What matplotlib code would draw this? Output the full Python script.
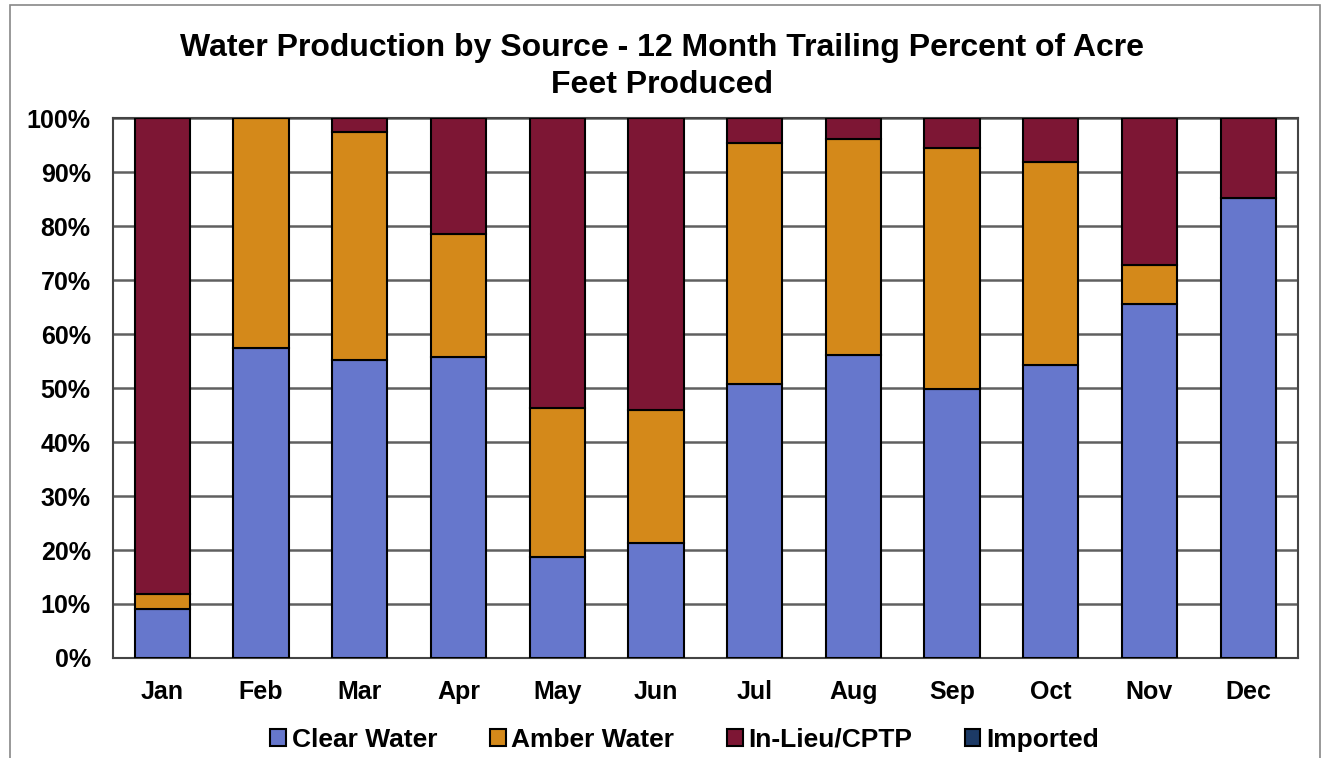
import numpy as np
import matplotlib.pyplot as plt
from matplotlib.patches import Rectangle

months = ["Jan", "Feb", "Mar", "Apr", "May", "Jun",
          "Jul", "Aug", "Sep", "Oct", "Nov", "Dec"]

# percent of acre feet
clear_water = [9.1, 57.4, 55.2, 55.7, 18.7, 21.3, 50.7, 56.1, 49.8, 54.3, 65.6, 85.2]
amber_water = [2.8, 42.6, 42.2, 22.8, 27.6, 24.6, 44.7, 40.0, 44.6, 37.6, 7.2, 0.0]
in_lieu     = [88.1, 0.0, 2.6, 21.5, 53.7, 54.1, 4.6, 3.9, 5.6, 8.1, 27.2, 14.8]
imported    = [0.0] * 12

series = [("Clear Water", clear_water, "#6677cc"),
          ("Amber Water", amber_water, "#d4891a"),
          ("In-Lieu/CPTP", in_lieu, "#7d1634"),
          ("Imported", imported, "#1c3a66")]

plt.rcParams['font.family'] = ['Liberation Sans', 'DejaVu Sans']
plt.rcParams['font.weight'] = 'bold'

fig = plt.figure(figsize=(13.24, 7.58), dpi=100)
ax = fig.add_axes([0.0853, 0.132, 0.8947, 0.712])

x = np.arange(len(months))
bottom = np.zeros(len(months))
for name, vals, col in series:
    vals = np.array(vals)
    ax.bar(x, vals, 0.56, bottom=bottom, color=col, edgecolor="black",
           linewidth=1.5, label=name, zorder=3)
    bottom += vals

ax.set_xlim(-0.5, 11.5)
ax.set_ylim(0, 100)
ax.set_yticks(np.arange(0, 101, 10))
ax.set_yticklabels([f"{v}%" for v in range(0, 101, 10)], fontsize=18, fontweight="bold")
ax.set_xticks(x)
ax.set_xticklabels(months, fontsize=18, fontweight="bold")
ax.tick_params(axis="x", length=0, pad=16)
ax.tick_params(axis="y", length=0, pad=16)
ax.yaxis.grid(True, color="#606060", linewidth=1.8, zorder=0)
for s in ax.spines.values():
    s.set_color("#444444")
    s.set_linewidth(1.5)

fig.text(0.5, 0.937, "Water Production by Source - 12 Month Trailing Percent of Acre",
         ha="center", va="center", fontsize=23, fontweight="bold")
fig.text(0.5, 0.888, "Feet Produced", ha="center", va="center",
         fontsize=23, fontweight="bold")

leg = fig.legend(loc="center", bbox_to_anchor=(0.517, 0.024), ncol=4, frameon=False,
                 handlelength=0.6, handleheight=0.6, handletextpad=0.2,
                 columnspacing=2.0, prop={"weight": "bold", "size": 19})

fig.patches.append(Rectangle((0.0076, -0.01), 0.9894, 1.0034, transform=fig.transFigure,
                             fill=False, edgecolor="#888888", linewidth=1.2))

fig.savefig("out.png", dpi=100)
